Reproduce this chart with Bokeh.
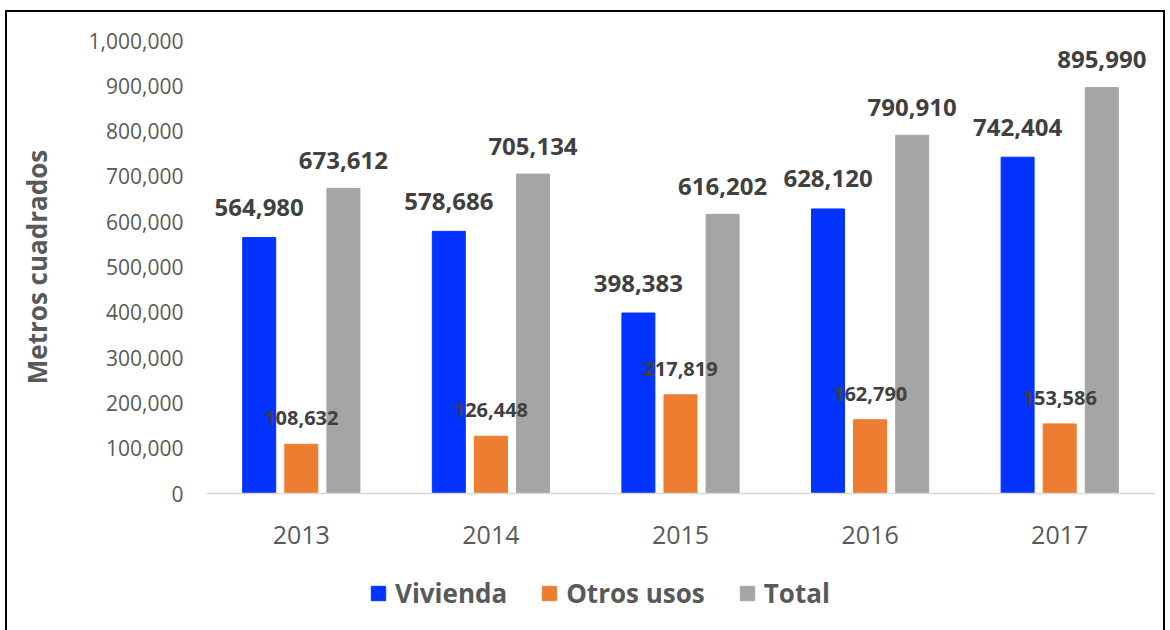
from bokeh.plotting import figure
from bokeh.layouts import column
from bokeh.models import (ColumnDataSource, Range1d, FactorRange, NumeralTickFormatter,
                          FixedTicker, Legend, LegendItem)
from bokeh.transform import dodge
from bokeh.core.properties import value
from bokeh.embed import file_html
from bokeh.resources import INLINE

years = ["2013", "2014", "2015", "2016", "2017"]
vivienda = [564980, 578686, 398383, 628120, 742404]
otros = [108632, 126448, 217819, 162790, 153586]
total = [673612, 705134, 616202, 790910, 895990]
series_names = ["Vivienda", "Otros usos", "Total"]
series_colors = ["#0433FF", "#ED7D31", "#A5A5A5"]

src = ColumnDataSource(dict(
    year=years, viv=vivienda, otr=otros, tot=total,
    viv_l=[f"{v:,}" for v in vivienda],
    otr_l=[f"{v:,}" for v in otros],
    tot_l=[f"{v:,}" for v in total],
))

FONT = "Open Sans"
p = figure(x_range=FactorRange(*years, range_padding=0), y_range=Range1d(0, 1000000),
           frame_width=948, frame_height=453,
           min_border_left=199, min_border_right=9, min_border_top=28, min_border_bottom=66,
           output_backend="svg", toolbar_location=None)
p.outline_line_color = None
p.xgrid.grid_line_color = None
p.ygrid.grid_line_color = None

BW = 0.174
OFF = 0.222
p.vbar(x=dodge("year", -OFF, range=p.x_range), top="viv", width=BW, color=series_colors[0], source=src)
p.vbar(x=dodge("year", 0, range=p.x_range), top="otr", width=BW, color=series_colors[1], source=src)
p.vbar(x=dodge("year", OFF, range=p.x_range), top="tot", width=BW, color=series_colors[2], source=src)

common = dict(text_align="center", text_baseline="alphabetic", text_font=value(FONT),
              text_font_style="bold", text_color="#404040", source=src)
p.text(x=dodge("year", -OFF, range=p.x_range), y="viv", text="viv_l", y_offset=-30,
       text_font_size="24px", **common)
p.text(x=dodge("year", 0, range=p.x_range), y="otr", text="otr_l", y_offset=-26,
       text_font_size="20px", **common)
p.text(x=dodge("year", OFF, range=p.x_range), y="tot", text="tot_l", y_offset=-28,
       text_font_size="24px", **common)

# y axis
ya = p.yaxis[0]
ya.ticker = FixedTicker(ticks=list(range(0, 1000001, 100000)))
ya.formatter = NumeralTickFormatter(format="0,0")
ya.axis_line_color = None
ya.major_tick_line_color = None
ya.minor_tick_line_color = None
ya.major_label_standoff = 17
ya.major_label_text_font = FONT
ya.major_label_text_font_size = "21px"
ya.major_label_text_color = "#595959"
ya.axis_label = "Metros cuadrados"
ya.axis_label_text_font = FONT
ya.axis_label_text_font_style = "bold"
ya.axis_label_text_font_size = "26px"
ya.axis_label_text_color = "#595959"
ya.axis_label_standoff = 31

xa = p.xaxis[0]
xa.axis_line_color = "#D9D9D9"
xa.axis_line_width = 1.5
xa.major_tick_line_color = None
xa.minor_tick_line_color = None
xa.major_label_standoff = 26
xa.major_label_text_font = FONT
xa.major_label_text_font_size = "25px"
xa.major_label_text_color = "#595959"

# legend strip (its glyph renderers sit outside the visible range)
p2 = figure(width=1156, height=72, x_range=Range1d(0, 1), y_range=Range1d(0, 1),
            min_border=0, output_backend="svg", toolbar_location=None)
p2.axis.visible = False
p2.grid.visible = False
p2.outline_line_color = None
hidden = ColumnDataSource(dict(x=[-10], top=[-10]))
items = []
for name, col in zip(series_names, series_colors):
    r = p2.vbar(x="x", top="top", width=0.1, color=col, source=hidden)
    items.append(LegendItem(label=name, renderers=[r]))

lg = Legend(items=items, orientation="horizontal", location=(163, 20))
lg.border_line_color = None
lg.background_fill_alpha = 0
lg.padding = 0
lg.margin = 0
lg.spacing = 33
lg.label_standoff = 8
lg.glyph_width = 18
lg.glyph_height = 18
lg.label_text_font = FONT
lg.label_text_font_style = "bold"
lg.label_text_font_size = "26px"
lg.label_text_color = "#595959"
p2.add_layout(lg)

layout = column(p, p2, spacing=0)
layout.styles = {"border": "2px solid black", "margin-left": "5px", "margin-top": "10px"}

open("out.html", "w").write(file_html(layout, INLINE))
